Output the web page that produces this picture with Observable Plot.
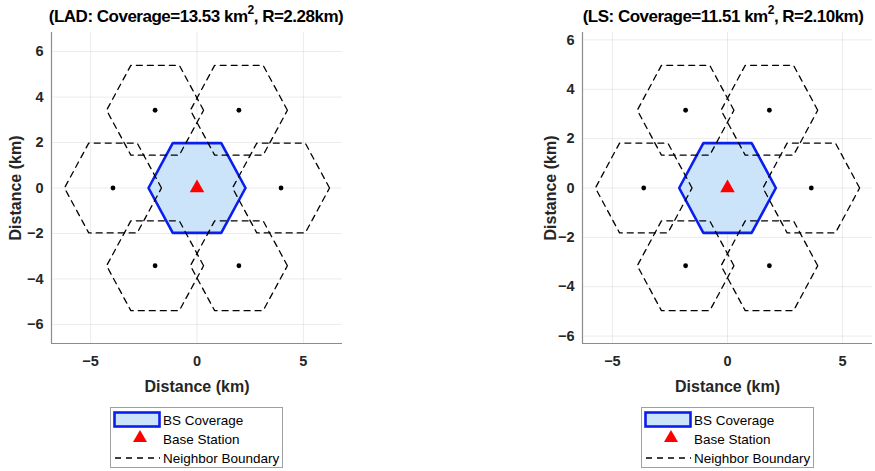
<!DOCTYPE html>
<html>
<head>
<meta charset="utf-8">
<script src="https://cdn.jsdelivr.net/npm/d3@7"></script>
<script src="https://cdn.jsdelivr.net/npm/@observablehq/plot@0.6"></script>
<style>
  body { margin: 0; background: white; }
  #root { position: relative; width: 875px; height: 471px; background: white; overflow: hidden; font-family: "Liberation Sans", Arial, sans-serif; }
  .panel { position: absolute; top: 0; }
  .title { position: absolute; top: 4px; font-weight: bold; font-size: 17px; letter-spacing: -0.5px; color: #000; white-space: nowrap; transform: translateX(-50%); }
  .title sup { font-size: 12px; position: relative; top: -1px; }
  .legend { position: absolute; top: 407px; }
</style>
</head>
<body>
<div id="root"></div>
<script>
// ---- data ----
const panels = ["LAD", "LS"];
const coverage = [13.53, 11.51];          // km^2
const radius = [2.28, 2.10];              // km
const axisLimit = [6.84, 6.30];           // symmetric axis limits (km)
const xTicks = [-5, 0, 5];
const yTicks = [-6, -4, -2, 0, 2, 4, 6];
const neighborX_LAD = [3.95, 1.97, -1.97, -3.95, -1.97, 1.97];
const neighborY_LAD = [0, 3.42, 3.42, 0, -3.42, -3.42];
const neighborX_LS = [3.64, 1.82, -1.82, -3.64, -1.82, 1.82];
const neighborY_LS = [0, 3.15, 3.15, 0, -3.15, -3.15];
const baseX = [0];
const baseY = [0];
const legendLabels = ["BS Coverage", "Base Station", "Neighbor Boundary"];
const axisLabel = "Distance (km)";

// ---- styles ----
const covFill = "#cce4fa";
const covStroke = "#0a1ef0";

function hexagon(cx, cy, R, id) {
  const pts = [];
  for (let k = 0; k <= 6; k++) {
    const a = k * Math.PI / 3;
    pts.push({x: cx + R * Math.cos(a), y: cy + R * Math.sin(a), id});
  }
  return pts;
}

const root = document.getElementById("root");

function makePanel(i, nx, ny, left, marginLeft, marginRight, yLabelOffset, titleCenter, legendLeft) {
  const R = radius[i], L = axisLimit[i];
  const bs = hexagon(baseX[0], baseY[0], R, "bs");
  const neighbors = nx.flatMap((x, j) => hexagon(x, ny[j], R, j));
  const centers = nx.map((x, j) => ({x, y: ny[j]}));
  const base = baseX.map((x, j) => ({x, y: baseY[j]}));

  const chart = Plot.plot({
    width: 438, height: 400,
    marginLeft, marginRight, marginTop: 32, marginBottom: 57,
    x: {domain: [-L, L]},
    y: {domain: [-L, L]},
    style: {fontFamily: "'Liberation Sans', Arial, sans-serif", fontSize: "14px", fontWeight: "bold", color: "#262626", background: "transparent", overflow: "visible"},
    marks: [
      Plot.gridX(xTicks, {stroke: "#000", strokeOpacity: 0.08, strokeWidth: 1}),
      Plot.gridY(yTicks, {stroke: "#000", strokeOpacity: 0.08, strokeWidth: 1}),
      Plot.line(bs, {x: "x", y: "y", fill: covFill, stroke: covStroke, strokeWidth: 2.6, strokeLinejoin: "miter"}),
      Plot.line(neighbors, {x: "x", y: "y", z: "id", stroke: "#000", strokeWidth: 1.3, strokeDasharray: "6,5"}),
      Plot.dot(centers, {x: "x", y: "y", r: 2.4, fill: "#000"}),
      Plot.dot(base, {x: "x", y: "y", symbol: "triangle", r: 5.4, fill: "#ff0000"}),
      Plot.ruleX([-L], {stroke: "#8c8c8c", strokeWidth: 1.2}),
      Plot.ruleY([-L], {stroke: "#8c8c8c", strokeWidth: 1.2}),
      Plot.axisX(xTicks, {tickSize: 0, tickPadding: 12, label: null, fill: "#262626", fontSize: 14.5}),
      Plot.axisY(yTicks, {tickSize: 0, tickPadding: 8, label: null, fill: "#262626", fontSize: 14.5}),
      Plot.axisX([], {tickSize: 0, label: axisLabel, labelAnchor: "center", labelArrow: "none", labelOffset: 48, fill: "#262626", fontSize: 16}),
      Plot.axisY([], {tickSize: 0, label: axisLabel, labelAnchor: "center", labelArrow: "none", labelOffset: yLabelOffset, fill: "#262626", fontSize: 16})
    ]
  });
  const div = document.createElement("div");
  div.className = "panel";
  div.style.left = left + "px";
  div.appendChild(chart);
  root.appendChild(div);

  const t = document.createElement("div");
  t.className = "title";
  t.style.left = titleCenter + "px";
  t.innerHTML = `(${panels[i]}: Coverage=${coverage[i].toFixed(2)} km<sup>2</sup>, R=${R.toFixed(2)}km)`;
  root.appendChild(t);

  // legend
  const lw = 173, lh = 61;
  const lg = d3.create("svg").attr("width", lw).attr("height", lh)
    .attr("class", "legend").style("left", legendLeft + "px");
  lg.append("rect").attr("x", 0.5).attr("y", 0.5).attr("width", lw - 1).attr("height", lh - 1)
    .attr("fill", "white").attr("stroke", "#a0a0a0");
  const rowY = [13, 32, 51];
  lg.append("rect").attr("x", 4.5).attr("y", 5.5).attr("width", 45).attr("height", 14)
    .attr("fill", covFill).attr("stroke", covStroke).attr("stroke-width", 2.6);
  lg.append("path").attr("d", d3.symbol(d3.symbolTriangle, 85)())
    .attr("transform", `translate(30,${rowY[1] - 1})`).attr("fill", "#ff0000");
  lg.append("line").attr("x1", 5).attr("x2", 50).attr("y1", rowY[2]).attr("y2", rowY[2])
    .attr("stroke", "#000").attr("stroke-width", 1.3).attr("stroke-dasharray", "6,5");
  lg.selectAll("text.l").data(legendLabels).join("text")
    .attr("x", 53).attr("y", (d, k) => rowY[k]).attr("dy", "0.36em")
    .attr("font-family", "'Liberation Sans', Arial, sans-serif").attr("font-size", 13.5)
    .attr("fill", "#000").text(d => d);
  root.appendChild(lg.node());
}

makePanel(0, neighborX_LAD, neighborY_LAD, 0, 51, 96, 42, 196, 110);
makePanel(1, neighborX_LS, neighborY_LS, 437, 145, 3, 38, 723, 641);
</script>
</body>
</html>
